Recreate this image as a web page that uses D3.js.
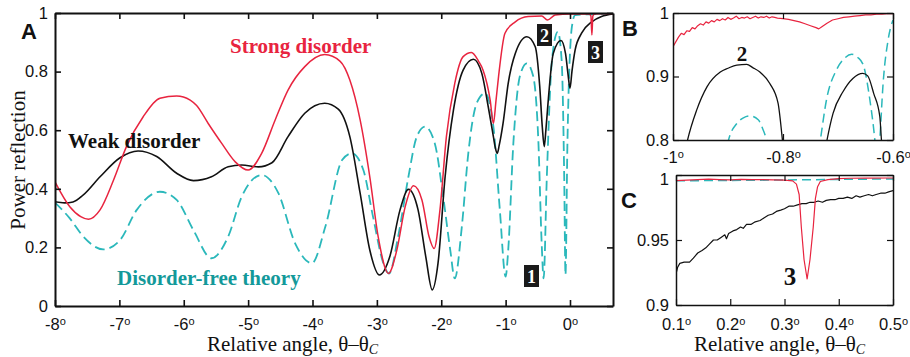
<!DOCTYPE html>
<html><head><meta charset="utf-8">
<script src="https://cdn.jsdelivr.net/npm/d3@7"></script>
<style>
html,body{margin:0;padding:0;background:#fff;}
svg{display:block;}
</style>
</head><body>
<svg id="chart" width="910" height="357"></svg>
<script>
// ---------------- DATA ----------------
const xTicksA = [-8,-7,-6,-5,-4,-3,-2,-1,0];
const yTicksA = [0,0.2,0.4,0.6,0.8,1];
const xTicksB = [-1,-0.8,-0.6];
const yTicksB = [0.8,0.9,1];
const xTicksC = [0.1,0.2,0.3,0.4,0.5];
const yTicksC = [0.9,0.95,1];

// Panel A: [relative angle (deg), power reflection]
const weakA = [[-8.0,0.356],[-7.85,0.352],[-7.72,0.355],[-7.56,0.379],[-7.30,0.441],[-6.99,0.506],[-6.71,0.529],[-6.42,0.510],[-6.11,0.453],[-5.85,0.428],[-5.57,0.441],[-5.31,0.475],[-5.10,0.481],[-4.84,0.475],[-4.63,0.489],[-4.38,0.578],[-4.12,0.658],[-3.81,0.692],[-3.60,0.672],[-3.42,0.578],[-3.26,0.385],[-3.11,0.191],[-2.96,0.106],[-2.80,0.168],[-2.64,0.328],[-2.51,0.398],[-2.36,0.328],[-2.24,0.168],[-2.14,0.055],[-2.05,0.146],[-1.94,0.441],[-1.81,0.669],[-1.66,0.805],[-1.50,0.842],[-1.37,0.794],[-1.27,0.680],[-1.19,0.578],[-1.16,0.540],[-1.13,0.521],[-1.10,0.548],[-1.04,0.623],[-0.96,0.760],[-0.85,0.862],[-0.67,0.919],[-0.54,0.885],[-0.47,0.749],[-0.43,0.610],[-0.40,0.544],[-0.375,0.600],[-0.35,0.669],[-0.26,0.862],[-0.14,0.906],[-0.07,0.862],[-0.03,0.790],[0.0,0.743],[0.03,0.800],[0.08,0.874],[0.18,0.931],[0.34,0.970],[0.49,0.988],[0.67,0.997]];
const strongA = [[-8.0,0.424],[-7.77,0.339],[-7.60,0.305],[-7.48,0.296],[-7.30,0.328],[-7.09,0.430],[-6.89,0.544],[-6.63,0.646],[-6.37,0.709],[-6.11,0.717],[-5.90,0.703],[-5.80,0.684],[-5.62,0.623],[-5.41,0.555],[-5.20,0.492],[-5.00,0.464],[-4.79,0.521],[-4.58,0.635],[-4.38,0.737],[-4.12,0.817],[-3.81,0.858],[-3.57,0.835],[-3.42,0.771],[-3.26,0.635],[-3.11,0.441],[-2.98,0.237],[-2.82,0.111],[-2.69,0.191],[-2.56,0.339],[-2.43,0.410],[-2.30,0.362],[-2.19,0.237],[-2.11,0.196],[-2.02,0.328],[-1.92,0.578],[-1.79,0.760],[-1.66,0.851],[-1.53,0.865],[-1.42,0.835],[-1.35,0.805],[-1.24,0.703],[-1.19,0.623],[-1.15,0.700],[-1.11,0.783],[-1.01,0.931],[-0.85,0.970],[-0.65,0.988],[-0.44,0.990],[-0.35,0.976],[-0.23,0.993],[0.0,0.997],[0.30,0.997],[0.325,0.990],[0.34,0.925],[0.355,0.990],[0.38,0.997],[0.67,0.998]];
const theoryA = [[-8.0,0.353],[-7.77,0.299],[-7.56,0.237],[-7.25,0.193],[-6.99,0.225],[-6.73,0.328],[-6.37,0.390],[-6.11,0.362],[-5.85,0.259],[-5.57,0.163],[-5.31,0.237],[-5.10,0.373],[-4.79,0.447],[-4.53,0.385],[-4.27,0.214],[-4.01,0.146],[-3.80,0.271],[-3.54,0.498],[-3.39,0.521],[-3.21,0.464],[-3.06,0.305],[-2.90,0.146],[-2.81,0.111],[-2.67,0.237],[-2.51,0.441],[-2.38,0.578],[-2.25,0.612],[-2.10,0.555],[-1.97,0.373],[-1.86,0.191],[-1.79,0.094],[-1.68,0.271],[-1.58,0.521],[-1.45,0.692],[-1.32,0.726],[-1.19,0.612],[-1.09,0.328],[-1.00,0.100],[-0.96,0.190],[-0.88,0.555],[-0.78,0.783],[-0.67,0.828],[-0.57,0.783],[-0.49,0.555],[-0.44,0.214],[-0.41,0.094],[-0.36,0.441],[-0.28,0.840],[-0.19,0.936],[-0.13,0.840],[-0.09,0.441],[-0.07,0.106],[-0.04,0.555],[0.03,0.954],[0.08,0.993],[0.67,0.998]];

// Panel B
const strongB = [[-1.00,0.947],[-0.99,0.962],[-0.985,0.968],[-0.98,0.966],[-0.975,0.972],[-0.97,0.971],[-0.965,0.977],[-0.96,0.975],[-0.955,0.980],[-0.95,0.983],[-0.945,0.981],[-0.94,0.986],[-0.935,0.984],[-0.93,0.988],[-0.925,0.986],[-0.92,0.990],[-0.915,0.988],[-0.91,0.991],[-0.905,0.989],[-0.90,0.993],[-0.895,0.990],[-0.89,0.992],[-0.885,0.995],[-0.88,0.991],[-0.875,0.993],[-0.87,0.992],[-0.865,0.994],[-0.86,0.991],[-0.855,0.993],[-0.85,0.995],[-0.845,0.992],[-0.84,0.994],[-0.835,0.993],[-0.83,0.995],[-0.825,0.992],[-0.82,0.994],[-0.815,0.993],[-0.81,0.992],[-0.80,0.991],[-0.79,0.990],[-0.78,0.988],[-0.77,0.986],[-0.76,0.983],[-0.75,0.980],[-0.74,0.977],[-0.735,0.975],[-0.73,0.978],[-0.72,0.984],[-0.71,0.989],[-0.70,0.991],[-0.69,0.993],[-0.68,0.994],[-0.67,0.995],[-0.66,0.996],[-0.65,0.997],[-0.64,0.997],[-0.63,0.998],[-0.62,0.998],[-0.61,0.999],[-0.60,0.999]];
const weakB = [[-0.985,0.75],[-0.9735,0.8],[-0.957,0.847],[-0.938,0.884],[-0.914,0.907],[-0.90,0.913],[-0.884,0.918],[-0.866,0.919],[-0.855,0.914],[-0.842,0.907],[-0.824,0.889],[-0.809,0.858],[-0.801,0.8],[-0.795,0.75],[-0.73,0.75],[-0.720,0.8],[-0.709,0.842],[-0.691,0.876],[-0.673,0.897],[-0.655,0.905],[-0.646,0.901],[-0.635,0.873],[-0.624,0.837],[-0.621,0.8],[-0.615,0.75],[-0.60,0.70]];
const theoryB = [[-0.91,0.75],[-0.899,0.8],[-0.884,0.826],[-0.872,0.835],[-0.860,0.838],[-0.845,0.832],[-0.838,0.82],[-0.830,0.8],[-0.82,0.75],[-0.74,0.75],[-0.732,0.8],[-0.721,0.863],[-0.703,0.910],[-0.689,0.928],[-0.675,0.935],[-0.664,0.930],[-0.654,0.918],[-0.642,0.863],[-0.633,0.8],[-0.628,0.75],[-0.624,0.8],[-0.618,0.889],[-0.609,0.957],[-0.60,0.989]];

// Panel C
const strongC = [[0.10,0.9956],[0.12,0.9960],[0.14,0.9965],[0.16,0.9968],[0.18,0.9965],[0.20,0.9962],[0.22,0.9966],[0.24,0.9965],[0.26,0.9964],[0.28,0.9963],[0.30,0.9960],[0.315,0.9955],[0.322,0.993],[0.327,0.985],[0.331,0.960],[0.336,0.935],[0.3417,0.920],[0.347,0.935],[0.353,0.960],[0.357,0.982],[0.361,0.991],[0.366,0.995],[0.38,0.9965],[0.40,0.9972],[0.42,0.9975],[0.45,0.9976],[0.50,0.9977]];
const weakC = [[0.100,0.924],[0.103,0.929],[0.107,0.932],[0.115,0.933],[0.125,0.933],[0.132,0.936],[0.140,0.940],[0.148,0.942],[0.155,0.944],[0.162,0.947],[0.169,0.950],[0.176,0.950],[0.183,0.952],[0.190,0.954],[0.193,0.951],[0.197,0.955],[0.205,0.957],[0.212,0.958],[0.219,0.960],[0.224,0.959],[0.230,0.962],[0.238,0.962],[0.246,0.964],[0.255,0.965],[0.262,0.967],[0.270,0.969],[0.278,0.970],[0.285,0.972],[0.293,0.973],[0.300,0.974],[0.308,0.976],[0.316,0.976],[0.324,0.977],[0.332,0.978],[0.340,0.978],[0.347,0.979],[0.355,0.979],[0.362,0.980],[0.370,0.979],[0.377,0.9805],[0.385,0.981],[0.393,0.981],[0.400,0.982],[0.408,0.982],[0.416,0.983],[0.424,0.982],[0.432,0.984],[0.439,0.983],[0.447,0.984],[0.455,0.985],[0.462,0.984],[0.469,0.985],[0.477,0.986],[0.485,0.986],[0.492,0.987],[0.500,0.988]];
const theoryC = [[0.10,0.9955],[0.30,0.9962],[0.50,0.9970]];

// ---------------- STYLE ----------------
const RED = "#e8243f", BLACK = "#111111", TEAL = "#2bb8bb", TEAL_TXT = "#13999a";
const SERIF = "'Liberation Serif','Times New Roman',serif";
const SANS = "'Liberation Sans',Arial,sans-serif";

const svg = d3.select("#chart");

function panel(id, xDom, xRange, yDom, yRange, xTicks, yTicks, opt) {
  const x = d3.scaleLinear().domain(xDom).range(xRange);
  const y = d3.scaleLinear().domain(yDom).range(yRange);
  const g = svg.append("g");
  const sw = opt.frame;
  svg.append("clipPath").attr("id", "clip" + id).append("rect")
    .attr("x", xRange[0]).attr("y", yRange[1]).attr("width", xRange[1] - xRange[0]).attr("height", yRange[0] - yRange[1]);
  const plot = g.append("g").attr("clip-path", `url(#clip${id})`);

  const bottom = g.append("g").attr("transform", `translate(0,${yRange[0]})`)
    .call(d3.axisBottom(x).tickValues(xTicks).tickSizeInner(-6).tickSizeOuter(0).tickPadding(opt.xpad).tickFormat(d => String(d)));
  bottom.selectAll(".tick text").each(function(d) {
    const t = d3.select(this);
    t.text(null);
    t.append("tspan").text(String(d));
    t.append("tspan").attr("font-size", "11px").attr("dy", "-5").text("o");
  });
  g.append("g").attr("transform", `translate(0,${yRange[1]})`)
    .call(d3.axisTop(x).tickValues(xTicks).tickSizeInner(-6).tickSizeOuter(0).tickFormat(""));
  const left = g.append("g").attr("transform", `translate(${xRange[0]},0)`)
    .call(d3.axisLeft(y).tickValues(yTicks).tickSizeInner(-6).tickSizeOuter(0).tickPadding(opt.ypad).tickFormat(d => String(d)));
  if (opt.topLabelShift) {
    left.selectAll(".tick text").filter(d => d === yDom[1]).attr("dy", (0.32 * 16.5 + opt.topLabelShift) + "px");
  }
  g.append("g").attr("transform", `translate(${xRange[1]},0)`)
    .call(d3.axisRight(y).tickValues(yTicks).tickSizeInner(-6).tickSizeOuter(0).tickFormat(""));
  g.selectAll(".domain").attr("stroke", BLACK).attr("stroke-width", sw);
  g.selectAll(".tick line").attr("stroke", BLACK).attr("stroke-width", sw * 0.8);
  g.selectAll(".tick text").attr("fill", BLACK).attr("font-family", SANS).attr("font-size", "16.5px");
  return {x, y, g, plot};
}

function draw(p, data, color, width, curve, dash) {
  const line = d3.line().x(d => p.x(d[0])).y(d => p.y(d[1])).curve(curve);
  const path = p.plot.append("path").datum(data).attr("d", line)
    .attr("fill", "none").attr("stroke", color).attr("stroke-width", width)
    .attr("stroke-linejoin", "round");
  if (dash) path.attr("stroke-dasharray", dash);
}

// Panel A
const A = panel("A", [-8, 0.668], [55, 613], [0, 1], [306, 13], xTicksA, yTicksA,
  {frame: 2, xpad: 12, ypad: 7});
draw(A, theoryA, TEAL, 1.8, d3.curveMonotoneX, "10,5");
draw(A, weakA, BLACK, 1.6, d3.curveMonotoneX);
draw(A, strongA, RED, 1.5, d3.curveMonotoneX);

// Panel B
const B = panel("B", [-1, -0.6], [673, 893], [0.8, 1], [140, 13], xTicksB, yTicksB,
  {frame: 1.5, xpad: 11, ypad: 4});
draw(B, theoryB, TEAL, 1.5, d3.curveMonotoneX, "9,5");
draw(B, weakB, BLACK, 1.3, d3.curveMonotoneX);
draw(B, strongB, RED, 1.2, d3.curveLinear);

// Panel C
const C = panel("C", [0.1, 0.5], [676, 893], [0.9, 1], [305, 175], xTicksC, yTicksC,
  {frame: 1.5, xpad: 13, ypad: 7, topLabelShift: 4});
draw(C, theoryC, TEAL, 1.5, d3.curveLinear, "9,5");
draw(C, weakC, BLACK, 1.2, d3.curveLinear);
draw(C, strongC, RED, 1.2, d3.curveLinear);

// ---------------- TEXT ----------------
function txt(x, y, s, o) {
  return svg.append("text").attr("x", x).attr("y", y).text(s)
    .attr("font-family", o.family || SERIF).attr("font-size", o.size + "px")
    .attr("font-weight", o.weight || "normal").attr("fill", o.color || BLACK)
    .attr("text-anchor", o.anchor || "start");
}
// Panel letters
txt(21, 39, "A", {family: SANS, size: 22, weight: "bold"});
txt(622, 36, "B", {family: SANS, size: 22, weight: "bold"});
txt(621, 208, "C", {family: SANS, size: 22, weight: "bold"});

// Series labels
txt(230, 53, "Strong disorder", {size: 21, weight: "bold", color: RED});
txt(68, 148, "Weak disorder", {size: 21, weight: "bold", color: BLACK});
txt(117, 285, "Disorder-free theory", {size: 21, weight: "bold", color: TEAL_TXT});

// Numbered boxes
const boxes = [{n: "1", x: 524, y: 265}, {n: "2", x: 537, y: 24}, {n: "3", x: 588, y: 41}];
boxes.forEach(b => {
  svg.append("rect").attr("x", b.x).attr("y", b.y).attr("width", 15).attr("height", 22).attr("fill", "#1a1a1a");
  txt(b.x + 7.5, b.y + 18, b.n, {size: 18, weight: "bold", color: "#fff", anchor: "middle"});
});
txt(742, 61, "2", {size: 21, weight: "bold", anchor: "middle"});
txt(790, 285, "3", {size: 25, weight: "bold", anchor: "middle"});

// Axis titles
function angleTitle(x, y) {
  const t = txt(x, y, "", {size: 21, color: BLACK});
  t.append("tspan").text("Relative angle, θ–θ");
  t.append("tspan").attr("font-style", "italic").attr("font-size", "14px").attr("dy", "3").text("C");
}
angleTitle(207, 351);
angleTitle(694, 351);
svg.append("text").attr("transform", "translate(25,160) rotate(-90)")
  .attr("text-anchor", "middle").attr("font-family", SERIF).attr("font-size", "21px")
  .attr("fill", BLACK).text("Power reflection");
</script>
</body></html>
